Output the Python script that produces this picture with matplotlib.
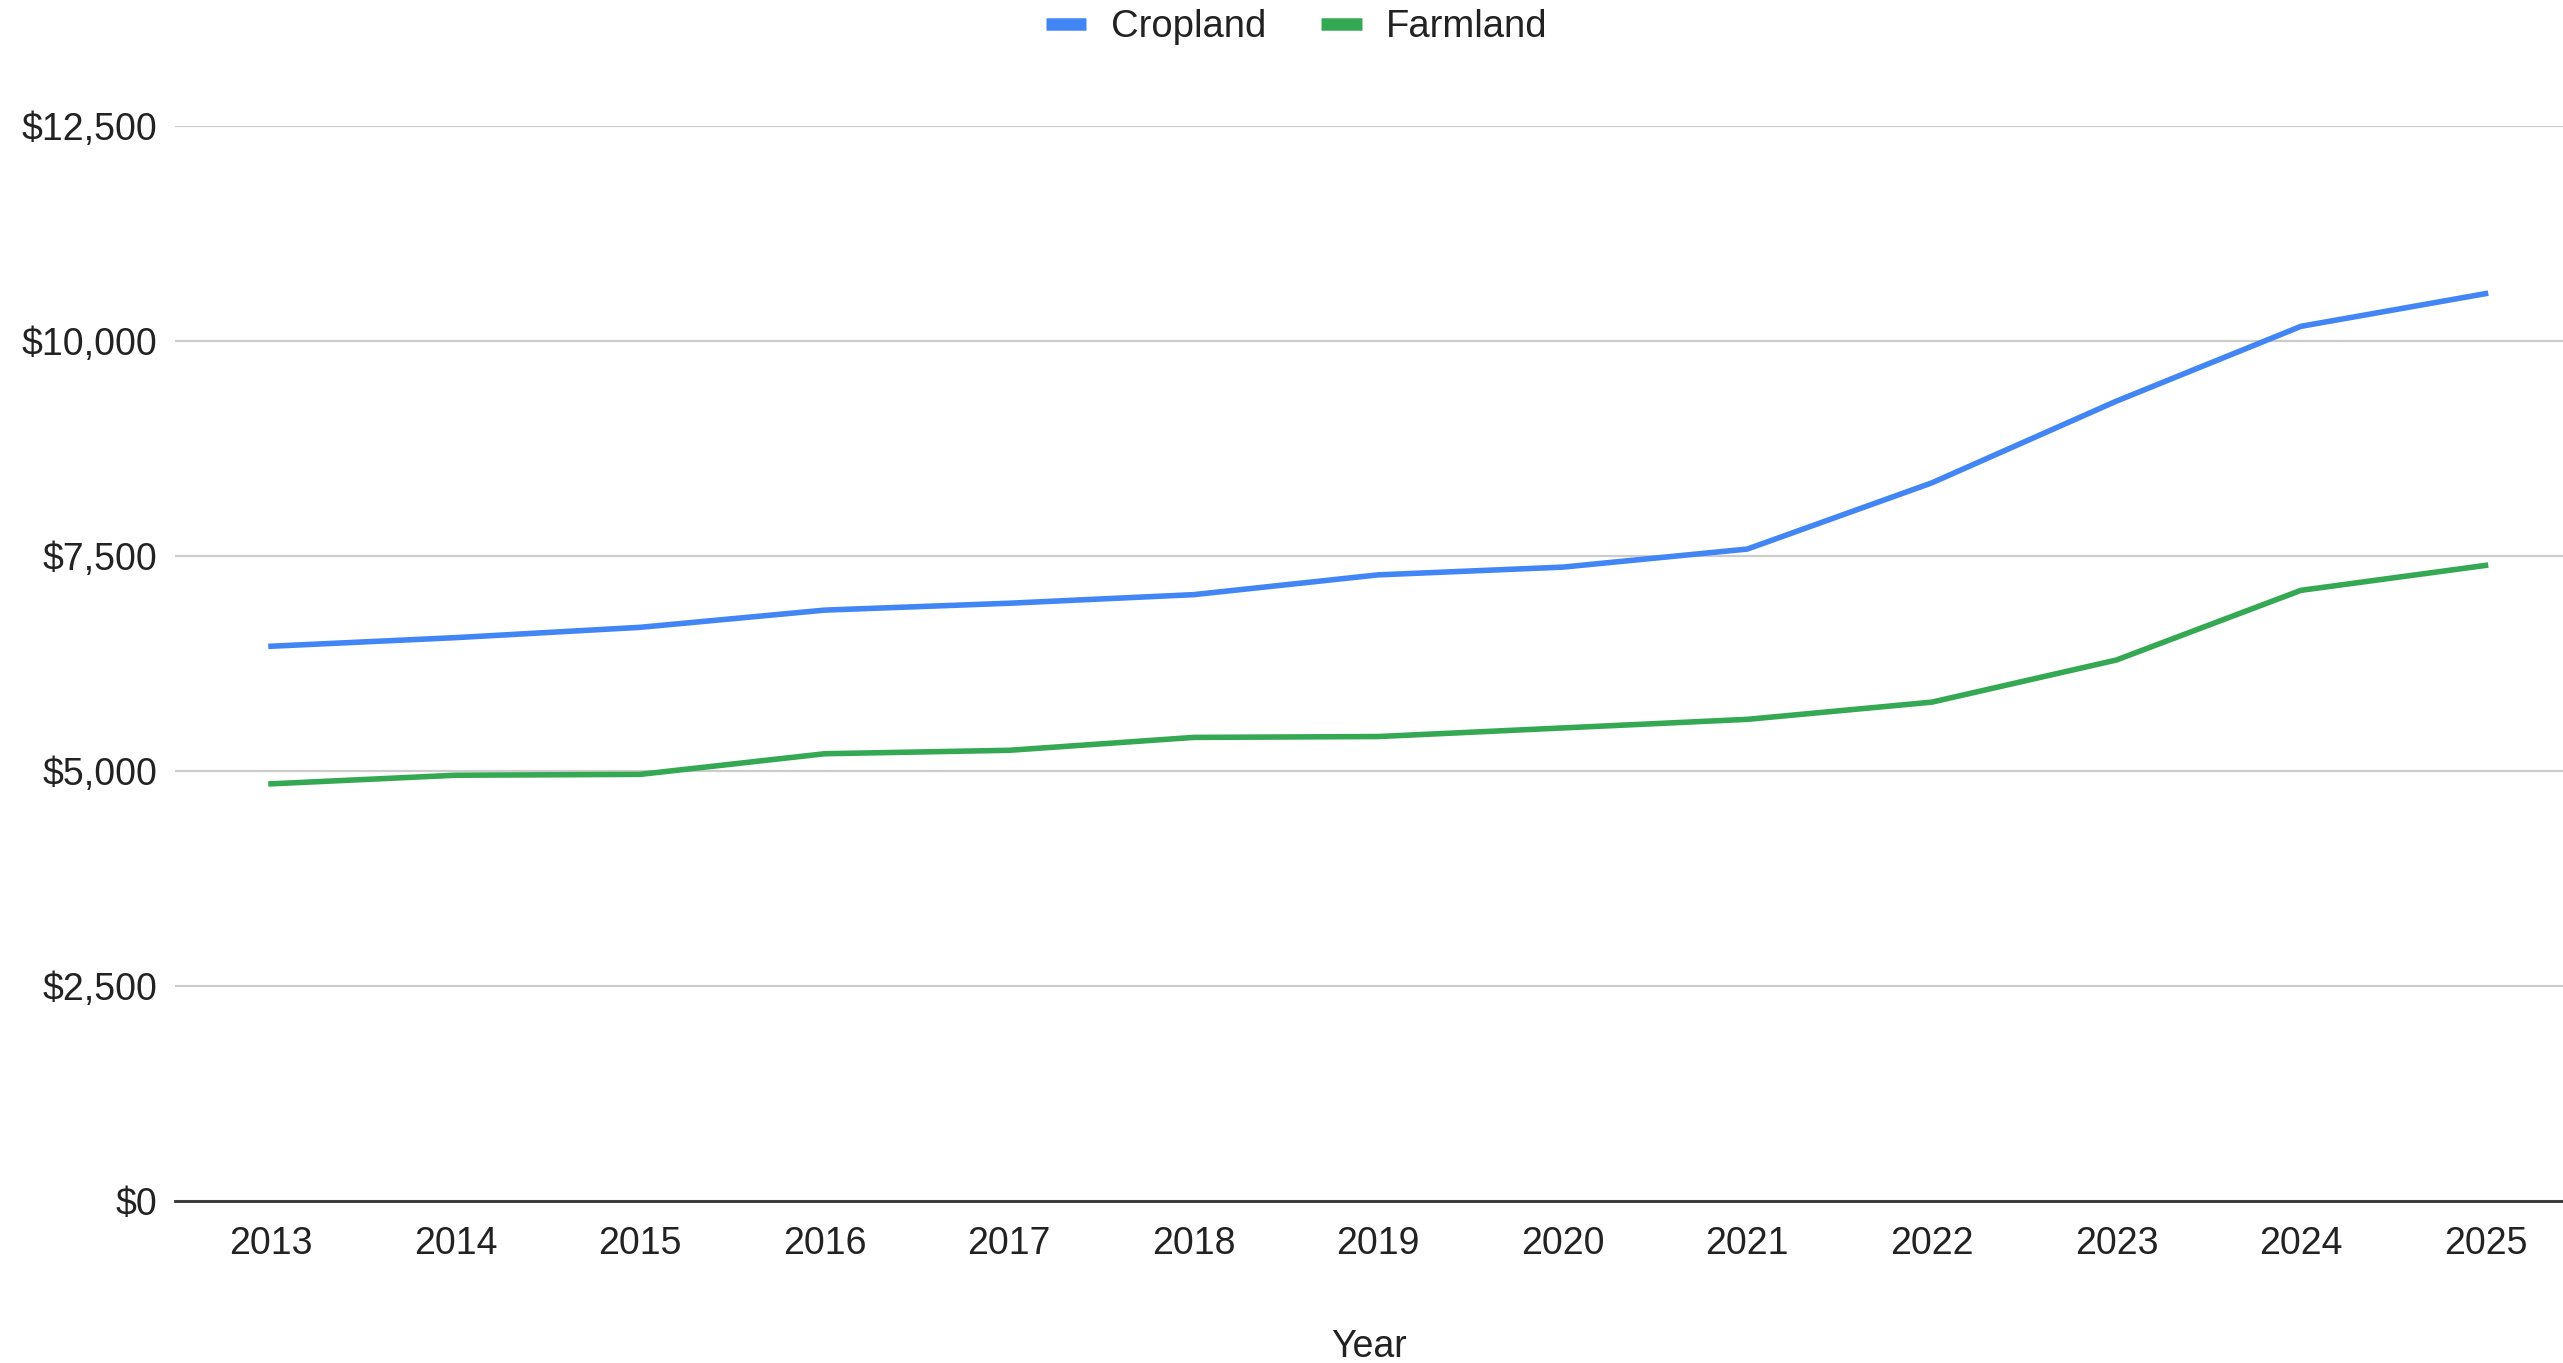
# Cropland vs farmland value per acre, 2013-2025
import matplotlib
matplotlib.use('agg')
import matplotlib.pyplot as plt
from matplotlib.lines import Line2D
from matplotlib.ticker import FuncFormatter, MultipleLocator

years = ["2013", "2014", "2015", "2016", "2017", "2018", "2019",
         "2020", "2021", "2022", "2023", "2024", "2025"]
cropland = [6450, 6550, 6670, 6870, 6950, 7050, 7280,
            7370, 7580, 8350, 9300, 10170, 10550]
farmland = [4850, 4950, 4960, 5200, 5240, 5390, 5400,
            5500, 5600, 5800, 6290, 7100, 7390]

blue = "#4285F4"
green = "#34A853"

plt.rcParams['font.family'] = ['Liberation Sans', 'DejaVu Sans']

fig = plt.figure(figsize=(25.63, 13.63), dpi=100)
ax = fig.add_axes([0.0683, 0.1189, 0.9317, 0.7887])

x = range(len(years))
ax.plot(x, cropland, color=blue, linewidth=4, solid_joinstyle='round')
ax.plot(x, farmland, color=green, linewidth=4, solid_joinstyle='round')

ax.set_xlim(-0.52, len(years) - 0.58)
ax.set_ylim(0, 12500)
ax.set_xticks(list(x))
ax.set_xticklabels(years)
ax.yaxis.set_major_locator(MultipleLocator(2500))
ax.yaxis.set_major_formatter(FuncFormatter(lambda v, p: f"${v:,.0f}"))

ax.grid(axis='y', color='#cccccc', linewidth=1.6)
ax.set_axisbelow(True)
for side in ['top', 'right', 'left']:
    ax.spines[side].set_visible(False)
ax.spines['bottom'].set_color('#333333')
ax.spines['bottom'].set_linewidth(2)
ax.spines['bottom'].set_zorder(3)

ax.tick_params(axis='both', length=0, labelsize=27, colors='#222222')
ax.tick_params(axis='x', pad=18)
ax.tick_params(axis='y', pad=13)
ax.set_xlabel("Year", fontsize=27, color='#222222', labelpad=48)

handles = [Line2D([], [], color=blue, linewidth=9, solid_capstyle='butt'),
           Line2D([], [], color=green, linewidth=9, solid_capstyle='butt')]
fig.legend(handles, ["Cropland", "Farmland"], loc='center',
           bbox_to_anchor=(0.506, 0.980), ncol=2, frameon=False,
           fontsize=27.5, handlelength=1.05, handletextpad=0.65,
           columnspacing=1.45, labelcolor='#222222')

fig.savefig("out.png", dpi=100, facecolor='white')
plt.close(fig)
